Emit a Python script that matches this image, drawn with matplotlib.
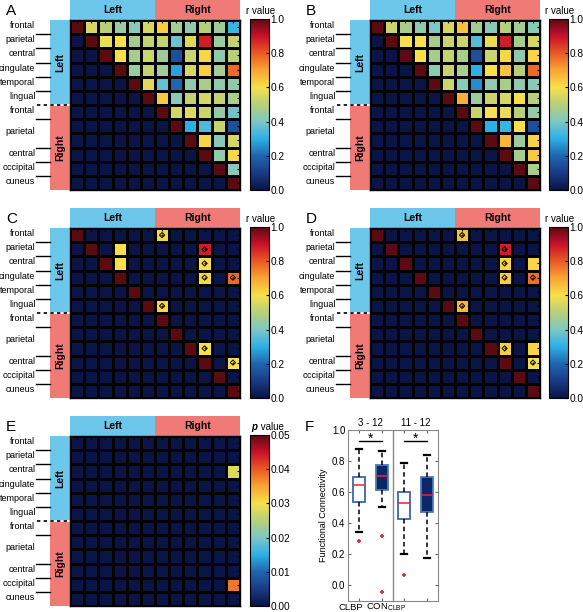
import numpy as np
import matplotlib
matplotlib.use('Agg')
import matplotlib.pyplot as plt
from matplotlib.colors import LinearSegmentedColormap
from matplotlib.patches import Rectangle
from matplotlib import font_manager

names = {f.name for f in font_manager.fontManager.ttflist}
HAS_NARROW = 'Liberation Sans Narrow' in names
base = 'Liberation Sans Narrow' if HAS_NARROW else 'Liberation Sans'
plt.rcParams['font.family'] = [base, 'DejaVu Sans']
plt.rcParams['mathtext.fontset'] = 'custom'
plt.rcParams['mathtext.rm'] = base
# the reference uses a condensed face; shrink a bit when only the regular one exists
FS = 7.5 if HAS_NARROW else 6.5

# ---- data ----
row_labels = ['frontal', 'parietal', 'central', 'cingulate', 'temporal', 'lingual',
              'frontal', 'parietal', 'central', 'occipital', 'cuneus']
label_rows = [0, 1, 2, 3, 4, 5, 6, 7.5, 9, 10, 11]
label_breaks = [1, 2, 3, 4, 5, 7, 9, 10, 11]

# upper triangle (right of diagonal), r values
a_upper = [
    [0.55, 0.50, 0.45, 0.42, 0.55, 0.63, 0.47, 0.43, 0.50, 0.46, 0.32],
    [0.58, 0.60, 0.47, 0.52, 0.52, 0.38, 0.56, 0.88, 0.45, 0.52],
    [0.60, 0.47, 0.53, 0.46, 0.15, 0.53, 0.62, 0.43, 0.50],
    [0.45, 0.52, 0.46, 0.28, 0.55, 0.63, 0.47, 0.78],
    [0.56, 0.37, 0.20, 0.43, 0.48, 0.43, 0.43],
    [0.64, 0.42, 0.52, 0.55, 0.52, 0.48],
    [0.54, 0.56, 0.53, 0.44, 0.38],
    [0.30, 0.34, 0.52, 0.15],
    [0.62, 0.42, 0.55],
    [0.44, 0.61],
    [0.42],
    [],
]
b_upper = [
    [0.53, 0.48, 0.43, 0.40, 0.55, 0.65, 0.47, 0.42, 0.50, 0.47, 0.42],
    [0.60, 0.60, 0.47, 0.53, 0.53, 0.35, 0.58, 0.88, 0.47, 0.55],
    [0.60, 0.47, 0.52, 0.48, 0.15, 0.53, 0.62, 0.43, 0.62],
    [0.43, 0.53, 0.48, 0.30, 0.60, 0.65, 0.50, 0.78],
    [0.53, 0.42, 0.25, 0.43, 0.48, 0.43, 0.42],
    [0.68, 0.45, 0.53, 0.55, 0.60, 0.50],
    [0.53, 0.60, 0.58, 0.50, 0.44],
    [0.30, 0.32, 0.60, 0.15],
    [0.67, 0.45, 0.62],
    [0.47, 0.64],
    [0.48],
    [],
]
# significant cells only
c_rows = [1, 2, 0, 5, 1, 2, 3, 8, 3, 9]
c_cols = [3, 3, 6, 6, 9, 9, 9, 9, 11, 11]
c_vals = [0.60, 0.60, 0.62, 0.62, 0.88, 0.60, 0.61, 0.60, 0.78, 0.60]
c_star = [0, 0, 1, 1, 1, 1, 1, 1, 1, 1]

d_rows = [0, 5, 1, 2, 3, 8, 2, 3, 8, 9]
d_cols = [6, 6, 9, 9, 9, 9, 11, 11, 11, 11]
d_vals = [0.66, 0.67, 0.88, 0.62, 0.63, 0.63, 0.62, 0.77, 0.62, 0.60]
d_star = [1, 1, 1, 1, 1, 1, 0, 1, 0, 1]

e_rows = [2, 10]
e_cols = [11, 11]
e_vals = [0.028, 0.038]

# panel F boxplots
box_pos = [1, 2, 3, 4]
box_whishi = [0.88, 0.865, 0.785, 0.84]
box_q3 = [0.695, 0.775, 0.60, 0.695]
box_med = [0.644, 0.704, 0.528, 0.58]
box_q1 = [0.536, 0.617, 0.43, 0.475]
box_whislo = [0.344, 0.506, 0.205, 0.178]
box_fliers = [[0.283], [0.315, -0.04], [0.07], []]
box_is_con = [False, True, False, True]

N = 12
cmap = LinearSegmentedColormap.from_list('rv', [
    (0.0, '#0b1446'), (0.1, '#1a3a86'), (0.2, '#1f66b0'), (0.3, '#2cb0e6'),
    (0.4, '#7ec7c6'), (0.5, '#b6cf7a'), (0.6, '#f7e04a'), (0.7, '#f8a632'),
    (0.8, '#ec5a24'), (0.9, '#c9112b'), (1.0, '#5c0a12')])

BLUE = '#6cc7ea'
SALMON = '#f07b76'

W, H = 583, 612
fig = plt.figure(figsize=(W / 100, H / 100), dpi=100)


def px_axes(x0, y0, x1, y1):
    return fig.add_axes([x0 / W, 1 - y1 / H, (x1 - x0) / W, (y1 - y0) / H])


def full_matrix(upper):
    m = np.eye(N)
    for i, row in enumerate(upper):
        for k, v in enumerate(row):
            m[i, i + 1 + k] = v
    return m


def sparse_matrix(rows, cols, vals, diag=True):
    m = np.eye(N) if diag else np.zeros((N, N))
    for r, c, v in zip(rows, cols, vals):
        m[r, c] = v
    return m


def draw_matrix(letter, x0, y0, cx0, mat, vmax, cticks, cfmt, pval=False, stars=None):
    ax = px_axes(x0, y0, x0 + 170, y0 + 170)
    im = ax.pcolormesh(np.arange(N + 1), np.arange(N + 1), mat, cmap=cmap,
                       vmin=0, vmax=vmax, edgecolors='k', linewidth=1.0)
    ax.set_xlim(0, N)
    ax.set_ylim(N, 0)
    ax.set_xticks(np.arange(N) + 0.5)
    ax.set_yticks(np.arange(N) + 0.5)
    ax.tick_params(direction='in', length=2, width=0.8, top=True, right=True,
                   bottom=False, left=False, labelbottom=False, labelleft=False)
    for s in ax.spines.values():
        s.set_linewidth(1.0)
    u = 20 / (170 / N)
    # header & side bars
    for (x, w, c, t) in [(0, 6, BLUE, 'Left'), (6, 6, SALMON, 'Right')]:
        ax.add_patch(Rectangle((x, -u), w, u, color=c, clip_on=False, lw=0))
        ax.text(x + w / 2, -u / 2, t, ha='center', va='center', fontsize=7.5,
                fontweight='bold', family='Liberation Sans')
        ax.add_patch(Rectangle((-u, x), u, w, color=c, clip_on=False, lw=0))
        ax.text(-u / 2, x + w / 2, t, ha='center', va='center', fontsize=7.5,
                fontweight='bold', family='Liberation Sans', rotation=90)
    for lab, r in zip(row_labels, label_rows):
        ax.text(-2.45, r + 0.4, lab, ha='right', va='center', fontsize=FS, clip_on=False)
    for b in label_breaks:
        ax.plot([-2.4, -u], [b, b], color='k', lw=1.0, clip_on=False)
    ax.plot([-2.3, 0], [6, 6], color='white', lw=1.2, clip_on=False)
    ax.plot([-2.3, N], [6, 6], color='k', lw=1.2, ls=(0, (2, 2)), clip_on=False)
    ax.plot([6, 6], [0, N], color='k', lw=1.2, ls=(0, (1.5, 1.5)))
    if stars is not None:
        sr, sc = stars
        ax.scatter(np.array(sc) + 0.5, np.array(sr) + 0.5, marker='D', s=7,
                   facecolors='none', edgecolors='k', linewidths=0.7, zorder=5)
        ax.scatter(np.array(sc) + 0.5, np.array(sr) + 0.5, marker='.', s=1,
                   color='k', zorder=6)
    fig.text((x0 - 64) / W, 1 - (y0 - 9) / H, letter, fontsize=11,
             family='Liberation Sans', va='center')
    cax = px_axes(cx0, y0 - 1, cx0 + 19, y0 + 170)
    cb = fig.colorbar(im, cax=cax)
    cb.set_ticks(cticks)
    cb.set_ticklabels([cfmt % t for t in cticks])
    cb.outline.set_linewidth(0.8)
    cax.tick_params(direction='in', length=2, width=0.8, labelsize=FS + 0.8, pad=1)
    if pval:
        cax.text(0.4, 1.02, 'p', transform=cax.transAxes, ha='right', va='bottom',
                 fontsize=FS + 0.5, fontweight='bold', fontstyle='italic',
                 family='Liberation Sans')
        cax.text(0.4, 1.02, ' value', transform=cax.transAxes, ha='left', va='bottom',
                 fontsize=FS + 0.5)
    else:
        cax.text(0.55, 1.02, 'r value', transform=cax.transAxes, ha='center',
                 va='bottom', fontsize=FS + 0.5)
    return ax


r_ticks = [0, 0.2, 0.4, 0.6, 0.8, 1.0]
p_ticks = [0, 0.01, 0.02, 0.03, 0.04, 0.05]

draw_matrix('A', 70, 20, 250, full_matrix(a_upper), 1.0, r_ticks, '%.1f')
draw_matrix('B', 370, 20, 549, full_matrix(b_upper), 1.0, r_ticks, '%.1f')
draw_matrix('C', 70, 228, 250, sparse_matrix(c_rows, c_cols, c_vals), 1.0, r_ticks, '%.1f',
            stars=([r for r, s in zip(c_rows, c_star) if s], [c for c, s in zip(c_cols, c_star) if s]))
draw_matrix('D', 370, 228, 549, sparse_matrix(d_rows, d_cols, d_vals), 1.0, r_ticks, '%.1f',
            stars=([r for r, s in zip(d_rows, d_star) if s], [c for c, s in zip(d_cols, d_star) if s]))
draw_matrix('E', 70, 436, 250, sparse_matrix(e_rows, e_cols, e_vals, diag=False), 0.05,
            p_ticks, '%.2f', pval=True)

# ---- panel F ----
axf = px_axes(348, 430, 438, 601)
stats = []
for i in range(len(box_pos)):
    stats.append(dict(med=box_med[i], q1=box_q1[i], q3=box_q3[i],
                      whislo=box_whislo[i], whishi=box_whishi[i], fliers=box_fliers[i]))
bp = axf.bxp(stats, positions=box_pos, widths=0.55, patch_artist=True, capwidths=0.28,
             boxprops=dict(linewidth=1.3),
             whiskerprops=dict(color='k', linestyle=(0, (3, 2)), linewidth=1.1),
             capprops=dict(color='k', linewidth=1.6),
             medianprops=dict(color='#e8262a', linewidth=1.1),
             flierprops=dict(marker='+', markersize=3, markeredgecolor='#e8262a',
                             markeredgewidth=1.2, linestyle='none'))
for patch, con in zip(bp['boxes'], box_is_con):
    patch.set_facecolor('#0b2766' if con else 'white')
    patch.set_edgecolor('#4d7bb8' if con else '#3a68a6')
axf.set_xlim(0.5, 4.5)
axf.set_ylim(-0.1, 1.0)
axf.axvline(2.5, color='#888888', lw=1.0)
axf.set_yticks([0, 0.2, 0.4, 0.6, 0.8, 1.0])
axf.set_yticklabels(['0.0', '0.2', '0.4', '0.6', '0.8', '1.0'])
axf.set_xticks(box_pos)
axf.set_xticklabels([])
axf.tick_params(direction='in', length=2, width=0.8, top=True, right=True,
                labelsize=FS + 0.5, pad=2, color='#666666')
for s in axf.spines.values():
    s.set_color('#888888')
axf.set_ylabel('Functional Connectivity', fontsize=FS, labelpad=3)
axf.text(0.62, -0.14, 'CLBP', ha='center', va='center', fontsize=FS + 0.3, clip_on=False)
axf.text(2.2, -0.14, r'CON$_\mathregular{CLBP}$', ha='center', va='center',
         fontsize=FS + 0.3, clip_on=False)
for xa, xb, t in [(1, 2, '3 - 12'), (3, 4, '11 - 12')]:
    axf.plot([xa, xb], [0.93, 0.93], color='k', lw=1.0)
    axf.text((xa + xb) / 2, 0.945, '*', ha='center', va='center', fontsize=10,
             family='Liberation Sans')
    axf.text((xa + xb) / 2, 1.01, t, ha='center', va='bottom', fontsize=FS + 0.5)
fig.text(305 / W, 1 - 427 / H, 'F', fontsize=11, family='Liberation Sans', va='center')

fig.savefig('out.png', dpi=100)
